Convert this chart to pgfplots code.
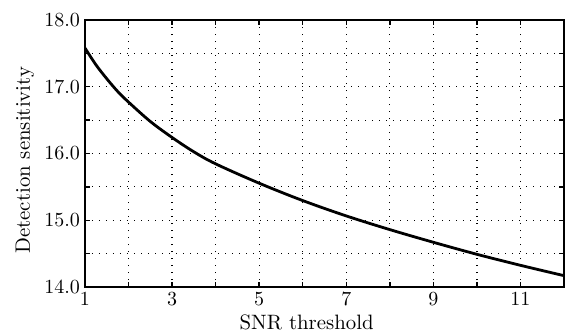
\documentclass[border=0pt]{standalone}
\usepackage{pgfplots}
\pgfplotsset{compat=1.18}
\begin{document}
\begin{tikzpicture}
\begin{axis}[
  name=ax,
  scale only axis,
  width=239.5pt, height=133.5pt,
  xmin=1, xmax=12, ymin=14, ymax=18,
  xtick={1,3,...,11},
  minor xtick={2,4,...,12},
  ytick={14,15,...,18},
  minor ytick={14.5,15.5,16.5,17.5},
  grid=both,
  major grid style={black, line width=0.6pt, dash pattern=on 0.6pt off 2.9pt},
  minor grid style={black, line width=0.6pt, dash pattern=on 0.6pt off 2.9pt},
  tick align=inside,
  major tick length=2.5pt, minor tick length=2.5pt,
  tick style={black, line width=0.7pt},
  axis line style={line width=0.9pt},
  ticklabel style={font=\fontsize{10.4}{12}\selectfont},
  yticklabel style={xshift=1pt, /pgf/number format/fixed, /pgf/number format/fixed zerofill, /pgf/number format/precision=1},
  xticklabel style={yshift=0.5pt},
  xlabel={SNR threshold},
  ylabel={Detection sensitivity},
  label style={font=\fontsize{10.4}{12}\selectfont},
  xlabel style={at={(axis description cs:0.4627,0)}, anchor=center, yshift=-17.5pt},
  ylabel style={at={(axis description cs:-0.1253,0.475)}, anchor=center},
]
\addplot[black, line width=1.4pt, smooth, tension=0.55] coordinates {
(1,17.58) (1.25,17.33) (1.5,17.12) (1.75,16.93) (2,16.77) (2.5,16.48) (3,16.24) (3.5,16.025)
(4,15.845) (5,15.555) (6,15.295) (7,15.065) (8,14.86) (9,14.67) (10,14.49) (11,14.325) (12,14.17)
};
\end{axis}
\pgfresetboundingbox
\path ([shift={(-42.5pt,-22.5pt)}]ax.south west) rectangle ([shift={(0.5pt,10pt)}]ax.north east);
\end{tikzpicture}
\end{document}
